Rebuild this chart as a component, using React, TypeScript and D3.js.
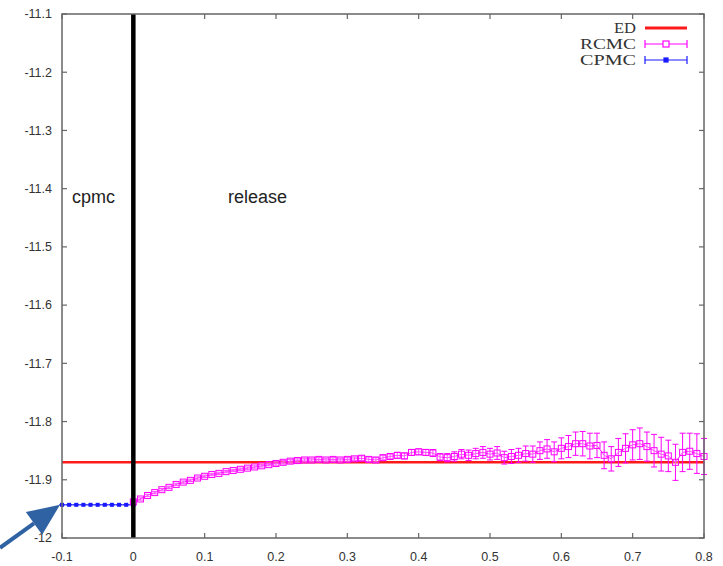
import React from "react";
import * as d3 from "d3";

const xTicks = [-0.1, 0, 0.1, 0.2, 0.3, 0.4, 0.5, 0.6, 0.7, 0.8];
const yTicks = [-12, -11.9, -11.8, -11.7, -11.6, -11.5, -11.4, -11.3, -11.2, -11.1];
const edValue = -11.87;
const cpmcTimes = [-0.1, -0.09, -0.08, -0.07, -0.06, -0.05, -0.04, -0.03, -0.02, -0.01, 0];
const cpmcValues = [-11.943, -11.943, -11.943, -11.943, -11.943, -11.943, -11.943, -11.943, -11.943, -11.943, -11.943];
const rcmcValues = [
  -11.938, -11.933, -11.927, -11.922, -11.917, -11.913, -11.908, -11.904, -11.901, -11.897,
  -11.894, -11.891, -11.889, -11.886, -11.884, -11.882, -11.88, -11.878, -11.876, -11.874,
  -11.872, -11.87, -11.868, -11.867, -11.866, -11.866, -11.865, -11.866, -11.865, -11.866,
  -11.865, -11.864, -11.863, -11.865, -11.866, -11.862, -11.86, -11.858, -11.859, -11.853,
  -11.852, -11.853, -11.854, -11.861, -11.862, -11.86, -11.856, -11.858, -11.855, -11.853,
  -11.856, -11.854, -11.862, -11.86, -11.858, -11.855, -11.856, -11.85, -11.847, -11.852,
  -11.846, -11.843, -11.838, -11.838, -11.842, -11.841, -11.858, -11.864, -11.853, -11.846,
  -11.84, -11.838, -11.843, -11.85, -11.856, -11.859, -11.87, -11.853, -11.851, -11.855,
  -11.86,
];
const rcmcErrors = [
  0.002, 0.002, 0.002, 0.002, 0.002, 0.002, 0.002, 0.002, 0.002, 0.002,
  0.002, 0.002, 0.002, 0.002, 0.002, 0.002, 0.002, 0.002, 0.002, 0.002,
  0.003, 0.003, 0.003, 0.003, 0.003, 0.003, 0.003, 0.003, 0.003, 0.003,
  0.003, 0.003, 0.004, 0.004, 0.004, 0.004, 0.004, 0.005, 0.005, 0.005,
  0.005, 0.005, 0.006, 0.006, 0.007, 0.008, 0.008, 0.009, 0.009, 0.01,
  0.01, 0.011, 0.011, 0.012, 0.012, 0.013, 0.014, 0.015, 0.016, 0.017,
  0.018, 0.019, 0.02, 0.021, 0.022, 0.021, 0.023, 0.021, 0.024, 0.025,
  0.026, 0.027, 0.025, 0.028, 0.029, 0.027, 0.031, 0.033, 0.031, 0.034,
  0.031,
];
const rcmcTimes = rcmcValues.map((_, i) => i / 100);

export default function App() {
  const W = 723, H = 566;
  const x = d3.scaleLinear().domain([-0.1, 0.8]).range([62, 704]);
  const y = d3.scaleLinear().domain([-12, -11.1]).range([538, 14]);
  const rcmc = rcmcTimes.map((t, i) => ({ t, v: rcmcValues[i], e: rcmcErrors[i] }));
  const cpmc = cpmcTimes.map((t, i) => ({ t, v: cpmcValues[i] }));
  const line = d3.line<{ t: number; v: number }>().x((d) => x(d.t)).y((d) => y(d.v));
  const fmt = (v: number) => (v === 0 ? "0" : String(+v.toFixed(2)));
  const tipX = x(-0.1) - 2, tipY = y(cpmcValues[0]);
  const tailX = 0, tailY = tipY + 43;
  const ang = Math.atan2(tipY - tailY, tipX - tailX);
  const hl = 32, hw = 14;
  const bx = tipX - hl * Math.cos(ang), by = tipY - hl * Math.sin(ang);
  const px = -Math.sin(ang), py = Math.cos(ang);
  const magenta = "#ff00ff";
  const blue = "#1a1aff";
  return (
    <svg width={W} height={H} style={{ position: "absolute", left: 0, top: 0, background: "#fff" }}>
      <rect width={W} height={H} fill="#fff" />
      {yTicks.map((t) => (
        <g key={"y" + t}>
          <line x1={62} x2={67} y1={y(t)} y2={y(t)} stroke="#666" strokeWidth={1.2} />
          <line x1={704} x2={699} y1={y(t)} y2={y(t)} stroke="#666" strokeWidth={1.2} />
          <text x={52} y={y(t)} dy="0.35em" textAnchor="end" fontFamily="Liberation Sans, Arial, sans-serif" fontSize={12.5} fill="#333">
            {fmt(t)}
          </text>
        </g>
      ))}
      {xTicks.map((t) => (
        <g key={"x" + t}>
          <line x1={x(t)} x2={x(t)} y1={538} y2={533} stroke="#666" strokeWidth={1.2} />
          <line x1={x(t)} x2={x(t)} y1={14} y2={19} stroke="#666" strokeWidth={1.2} />
          <text x={x(t)} y={561} textAnchor="middle" fontFamily="Liberation Sans, Arial, sans-serif" fontSize={12.5} fill="#333">
            {fmt(t)}
          </text>
        </g>
      ))}
      <line x1={x(-0.1)} x2={x(0.8)} y1={y(edValue)} y2={y(edValue)} stroke="#ff1a1a" strokeWidth={2.5} />
      <path d={line(cpmc) || ""} fill="none" stroke={blue} strokeWidth={1} />
      {cpmc.map((d, i) => (
        <g key={"c" + i}>
          <rect x={x(d.t) - 2} y={y(d.v) - 2} width={4} height={4} fill={blue} />
          <line x1={x(d.t) - 3} x2={x(d.t) + 3} y1={y(d.v)} y2={y(d.v)} stroke={blue} strokeWidth={1} />
        </g>
      ))}
      <path d={line(rcmc) || ""} fill="none" stroke={magenta} strokeWidth={1} />
      {rcmc.map((d, i) => (
        <g key={"r" + i} stroke={magenta} strokeWidth={1} fill="none">
          <line x1={x(d.t)} x2={x(d.t)} y1={y(d.v - d.e)} y2={y(d.v + d.e)} />
          <line x1={x(d.t) - 3} x2={x(d.t) + 3} y1={y(d.v - d.e)} y2={y(d.v - d.e)} />
          <line x1={x(d.t) - 3} x2={x(d.t) + 3} y1={y(d.v + d.e)} y2={y(d.v + d.e)} />
          <rect x={x(d.t) - 3} y={y(d.v) - 3} width={6} height={6} fill="#fff" fillOpacity={0.3} />
        </g>
      ))}
      <line x1={x(0)} x2={x(0)} y1={14} y2={538} stroke="#000" strokeWidth={4.5} />
      <rect x={62} y={14} width={642} height={524} fill="none" stroke="#666" strokeWidth={1.5} />
      <text x={72} y={203} fontFamily="Liberation Sans, Arial, sans-serif" fontSize={18} fill="#222">cpmc</text>
      <text x={228} y={203} fontFamily="Liberation Sans, Arial, sans-serif" fontSize={18} fill="#222">release</text>
      <g fontFamily="Liberation Serif, Times New Roman, serif" fontSize={14.5} fill="#333" textAnchor="end">
        <text x={636} y={33} textLength={22} lengthAdjust="spacingAndGlyphs">ED</text>
        <text x={636} y={49} textLength={56} lengthAdjust="spacingAndGlyphs">RCMC</text>
        <text x={636} y={65} textLength={56} lengthAdjust="spacingAndGlyphs">CPMC</text>
      </g>
      <line x1={645} x2={687} y1={28} y2={28} stroke="#ff1a1a" strokeWidth={3} />
      <g stroke={magenta} strokeWidth={1.2} fill="#fff">
        <line x1={645} x2={687} y1={44} y2={44} />
        <line x1={645} x2={645} y1={40} y2={48} />
        <line x1={687} x2={687} y1={40} y2={48} />
        <rect x={663} y={41} width={6} height={6} />
      </g>
      <g stroke={blue} strokeWidth={1.2}>
        <line x1={645} x2={687} y1={60} y2={60} />
        <line x1={645} x2={645} y1={56} y2={64} />
        <line x1={687} x2={687} y1={56} y2={64} />
        <rect x={664} y={58} width={4} height={4} fill={blue} />
      </g>
      <line x1={tailX} x2={bx} y1={tailY} y2={by} stroke="#2f62a3" strokeWidth={4} />
      <polygon
        points={`${tipX},${tipY} ${bx + px * hw},${by + py * hw} ${bx - px * hw},${by - py * hw}`}
        fill="#2f62a3"
      />
    </svg>
  );
}
